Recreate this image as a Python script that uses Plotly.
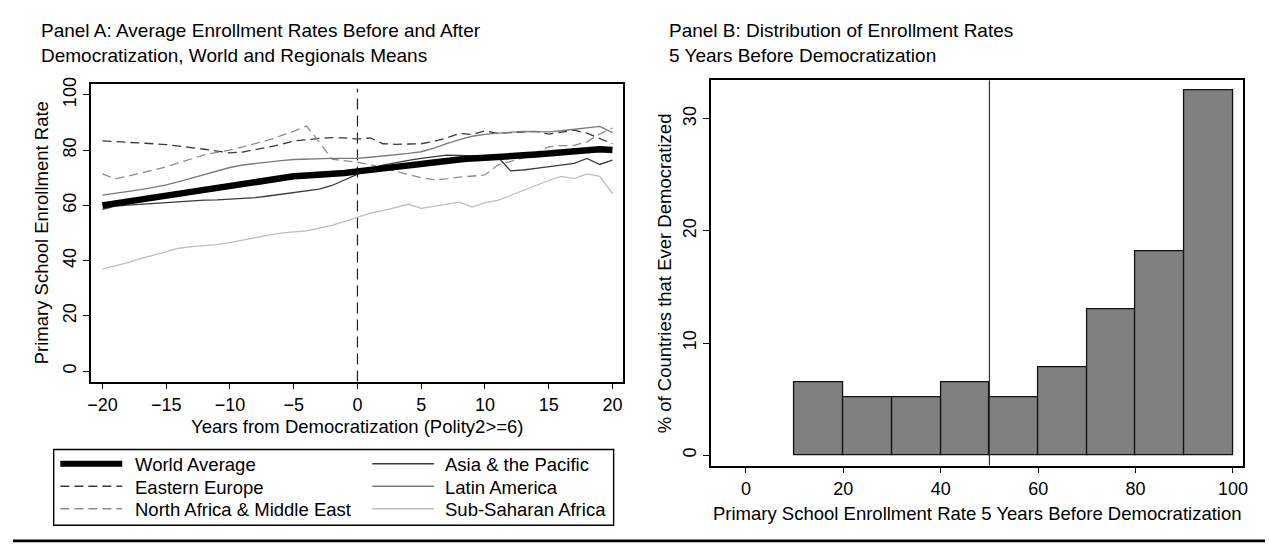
import plotly.graph_objects as go

W, H = 1269, 544
FONT = "Liberation Sans, Arial, sans-serif"

years = list(range(-20, 21))

world_avg = [60.0, 60.7, 61.4, 62.1, 62.9, 63.7, 64.4, 65.1, 65.7, 66.3, 66.9, 67.7, 68.5, 69.2, 69.9, 70.5,
             70.8, 71.0, 71.2, 71.7, 72.3, 72.9, 73.5, 74.1, 74.7, 75.3, 75.8, 76.2, 76.6, 77.0, 77.4,
             77.6, 77.8, 78.1, 78.4, 78.7, 79.0, 79.3, 79.7, 80.3, 80.0]
eastern_europe = [83.3, 83.1, 82.9, 82.6, 82.3, 82.0, 81.5, 80.9, 80.3, 79.6, 79.0, 79.3, 80.2, 81.1, 82.0, 83.3,
                  83.8, 84.2, 84.5, 84.4, 84.0, 84.4, 82.3, 82.1, 82.2, 82.3, 83.2, 84.4, 86.0, 85.6, 87.0,
                  86.0, 86.3, 86.6, 86.8, 85.8, 86.4, 87.2, 86.1, 84.2, 82.3]
north_africa_me = [71.4, 69.6, 70.6, 71.7, 72.8, 73.9, 75.4, 76.9, 78.3, 79.2, 80.0, 81.2, 82.3, 83.6, 85.2, 86.8,
                   88.7, 83.0, 76.7, 76.1, 75.6, 74.7, 73.5, 72.3, 71.1, 70.0, 69.3, 69.6, 70.2, 70.6, 71.0,
                   74.6, 76.0, 77.2, 79.0, 81.2, 81.6, 81.7, 83.0, 85.8, 88.0]
asia_pacific = [58.6, 59.7, 60.1, 60.4, 60.8, 61.0, 61.3, 61.6, 61.9, 62.0, 62.2, 62.5, 62.8, 63.4, 64.0, 64.6,
                65.2, 65.9, 67.2, 69.2, 71.2, 73.3, 74.6, 75.5, 76.3, 77.0, 77.6, 78.2, 78.1, 77.9, 77.8,
                77.6, 72.5, 72.8, 73.4, 74.0, 74.6, 75.2, 77.0, 74.8, 76.4]
latin_america = [63.7, 64.3, 65.0, 65.7, 66.5, 67.4, 68.6, 69.9, 71.1, 72.4, 73.7, 74.6, 75.2, 75.8, 76.2, 76.6,
                 76.8, 76.9, 77.0, 77.0, 77.0, 77.4, 77.8, 78.3, 78.8, 79.4, 80.7, 82.3, 83.8, 85.0, 85.7,
                 86.1, 86.5, 86.8, 86.7, 86.6, 87.0, 87.6, 88.1, 88.6, 86.3]
sub_saharan = [36.9, 38.0, 39.3, 40.7, 42.0, 43.3, 44.5, 45.1, 45.4, 45.8, 46.5, 47.3, 48.3, 49.2, 50.0, 50.4,
               50.8, 51.8, 52.8, 54.2, 55.8, 57.2, 58.1, 59.2, 60.4, 58.9, 59.6, 60.4, 61.2, 59.4, 61.0,
               61.8, 63.6, 65.5, 67.4, 69.0, 70.5, 69.7, 71.4, 70.5, 64.3]

bin_left = [10, 20, 30, 40, 50, 60, 70, 80, 90]
bin_width = 10
pct_countries = [6.5, 5.2, 5.2, 6.5, 5.2, 7.8, 13.0, 18.2, 32.5]

xticks_a = [-20, -15, -10, -5, 0, 5, 10, 15, 20]
yticks_a = [0, 20, 40, 60, 80, 100]
xticks_b = [0, 20, 40, 60, 80, 100]
yticks_b = [0, 10, 20, 30]

series = [
    ("World Average", world_avg, "#000000", 6.5, "solid"),
    ("Asia & the Pacific", asia_pacific, "#3a3a3a", 1.3, "solid"),
    ("Eastern Europe", eastern_europe, "#3a3a3a", 1.3, "9px,5px"),
    ("Latin America", latin_america, "#7a7a7a", 1.3, "solid"),
    ("North Africa & Middle East", north_africa_me, "#8c8c8c", 1.3, "9px,5px"),
    ("Sub-Saharan Africa", sub_saharan, "#bdbdbd", 1.3, "solid"),
]


def px(x):
    return x / W


def py(y):
    return 1 - y / H


fig = go.Figure()

# draw thin lines first, thick world average on top-ish order like reference
for name, vals, color, width, dash in series[1:] + series[:1]:
    fig.add_trace(go.Scatter(x=years, y=vals, mode="lines", name=name,
                             line=dict(color=color, width=width, dash=dash),
                             xaxis="x", yaxis="y", showlegend=False))

fig.add_trace(go.Bar(x=[b + bin_width / 2 for b in bin_left], y=pct_countries, width=bin_width,
                     marker=dict(color="#808080", line=dict(color="#111111", width=1.3)),
                     xaxis="x2", yaxis="y2", showlegend=False))

axis_common = dict(showline=True, linecolor="#000000", linewidth=1.6, mirror=True,
                   ticks="outside", ticklen=6, tickwidth=1.2, tickcolor="#000000",
                   showgrid=False, zeroline=False,
                   tickfont=dict(family=FONT, size=18, color="#000000"))

fig.update_layout(
    width=W, height=H,
    margin=dict(l=0, r=0, t=0, b=0),
    paper_bgcolor="white", plot_bgcolor="white",
    font=dict(family=FONT, size=18, color="#000000"),
    bargap=0,
    xaxis=dict(domain=[px(87.5), px(623)], range=[-20.9, 20.83], tickvals=xticks_a,
               anchor="y", **axis_common),
    yaxis=dict(domain=[py(379.5), py(78.3)], range=[-3.75, 103.8], tickvals=yticks_a,
               tickangle=-90, anchor="x", **axis_common),
    xaxis2=dict(domain=[px(711.7), px(1247.3)], range=[-7.14, 102.16], tickvals=xticks_b,
                anchor="y2", **axis_common),
    yaxis2=dict(domain=[py(464.5), py(74.3)], range=[-0.925, 33.43], tickvals=yticks_b,
                tickangle=-90, anchor="x2", **axis_common),
)

shapes = []
# vertical dashed line at democratization
shapes.append(dict(type="line", xref="x", yref="y domain", x0=0, x1=0, y0=0, y1=0.985,
                   line=dict(color="#222222", width=1.2, dash="11px,6px"), layer="below"))
# vertical reference line at 50 in panel B
shapes.append(dict(type="line", xref="x2", yref="y2 domain", x0=50, x1=50, y0=0, y1=1,
                   line=dict(color="#333333", width=1.2), layer="above"))
# legend box
shapes.append(dict(type="rect", xref="paper", yref="paper", x0=px(50), x1=px(613.5),
                   y0=py(525), y1=py(448.3), line=dict(color="#000000", width=1.4),
                   fillcolor="rgba(0,0,0,0)"))
# bottom rule
shapes.append(dict(type="line", xref="paper", yref="paper", x0=px(9), x1=px(1269),
                   y0=py(540.8), y1=py(540.8), line=dict(color="#000000", width=2.8)))

annotations = []
legend_rows = [462.7, 485.5, 508.3]
legend_cols = [(56.7, 119, 130), (370.6, 432.7, 442)]
legend_order = [series[0], series[1], series[2], series[3], series[4], series[5]]
for i, (name, vals, color, width, dash) in enumerate(legend_order):
    col = i % 2
    row = i // 2
    x0, x1, xt = legend_cols[col]
    yy = legend_rows[row]
    lw = 6 if width > 3 else 1.3
    shapes.append(dict(type="line", xref="paper", yref="paper", x0=px(x0), x1=px(x1),
                       y0=py(yy), y1=py(yy), line=dict(color=color, width=lw, dash=dash)))
    annotations.append(dict(text=name, xref="paper", yref="paper", x=px(xt), y=py(yy + 1),
                            xanchor="left", yanchor="middle", showarrow=False,
                            font=dict(family=FONT, size=18.5, color="#000000")))

title_font = dict(family=FONT, size=19, color="#000000")
for txt, x, y in [
    ("Panel A: Average Enrollment Rates Before and After", 35, 23),
    ("Democratization, World and Regionals Means", 35, 48),
    ("Panel B: Distribution of Enrollment Rates", 667, 23),
    ("5 Years Before Democratization", 667, 48),
]:
    annotations.append(dict(text=txt, xref="paper", yref="paper", x=px(x), y=py(y + 1),
                            xanchor="left", yanchor="middle", showarrow=False, font=title_font))

axis_title_font = dict(family=FONT, size=18.5, color="#000000")
annotations.append(dict(text="Years from Democratization (Polity2>=6)", xref="paper", yref="paper",
                        x=px(355.3), y=py(425), xanchor="center", yanchor="middle",
                        showarrow=False, font=axis_title_font))
annotations.append(dict(text="Primary School Enrollment Rate", xref="paper", yref="paper",
                        x=px(38), y=py(228.5), xanchor="center", yanchor="middle", textangle=-90,
                        showarrow=False, font=axis_title_font))
annotations.append(dict(text="Primary School Enrollment Rate 5 Years Before Democratization",
                        xref="paper", yref="paper", x=px(979.5), y=py(513), xanchor="center",
                        yanchor="middle", showarrow=False, font=axis_title_font))
annotations.append(dict(text="% of Countries that Ever Democratized", xref="paper", yref="paper",
                        x=px(665), y=py(270), xanchor="center", yanchor="middle", textangle=-90,
                        showarrow=False, font=axis_title_font))

fig.update_layout(shapes=shapes, annotations=annotations)

fig.write_html("out.html")
